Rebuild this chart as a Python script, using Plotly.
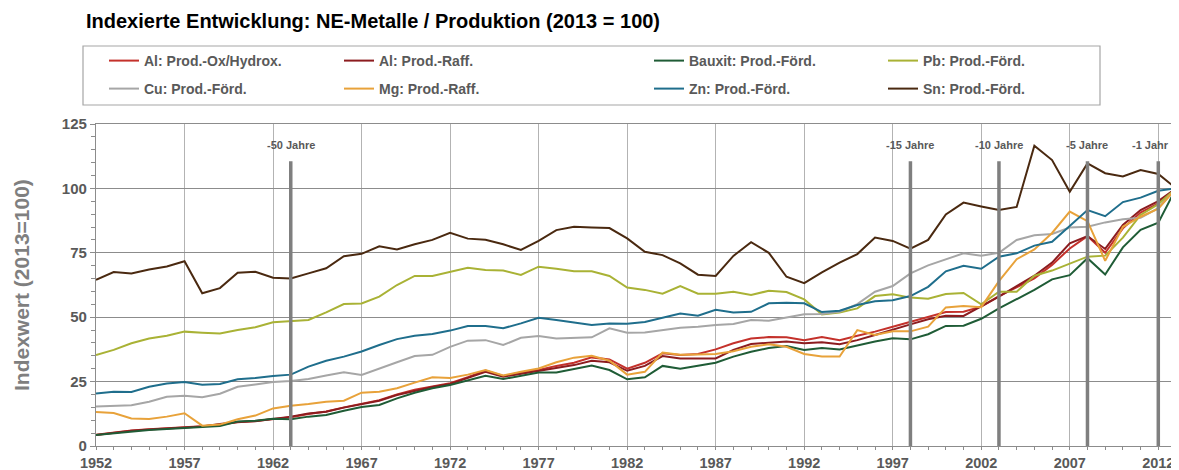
import plotly.graph_objects as go

years = list(range(1952, 2014))

al_ox = [4.4, 5.2, 6.0, 6.5, 6.9, 7.1, 7.7, 8.3, 9.2, 9.7,
         10.5, 11.2, 12.4, 13.4, 15.0, 16.5, 17.8, 20.0, 21.8, 23.1,
         24.4, 26.7, 29.3, 27.2, 28.5, 29.5, 31.1, 32.3, 34.4, 33.6,
         30.0, 32.3, 36.0, 35.3, 35.7, 37.5, 39.9, 41.7, 42.3, 42.2,
         41.1, 42.3, 41.1, 42.8, 44.4, 46.3, 48.1, 50.2, 52.0, 52.1,
         54.1, 58.2, 61.8, 65.1, 70.3, 76.7, 81.5, 75.0, 84.5, 90.6,
         94.2, 100]
al_raff = [4.3, 5.1, 5.9, 6.4, 6.8, 7.0, 7.6, 8.5, 9.3, 9.6,
           10.4, 11.4, 12.6, 13.3, 14.9, 16.3, 17.6, 19.8, 21.5, 22.9,
           24.1, 26.3, 28.8, 26.9, 28.0, 29.2, 30.1, 31.4, 33.1, 32.5,
           29.2, 31.1, 34.9, 34.0, 34.0, 34.0, 37.3, 39.6, 40.1, 40.6,
           39.9, 40.3, 39.5, 41.1, 43.1, 45.0, 47.2, 49.2, 50.6, 50.5,
           54.1, 58.0, 62.1, 66.1, 71.2, 78.7, 81.5, 76.5, 85.8, 91.6,
           95.1, 100]
bauxit = [4.3, 5.0, 5.7, 6.2, 6.6, 7.0, 7.4, 7.8, 9.5, 9.8,
          10.6, 10.4, 11.4, 12.0, 13.7, 15.1, 15.9, 18.5, 20.7, 22.4,
          23.7, 25.6, 27.3, 26.0, 27.2, 28.5, 28.5, 29.8, 31.2, 29.5,
          25.9, 26.7, 31.1, 30.0, 31.2, 32.3, 34.7, 36.6, 38.0, 38.8,
          37.3, 38.0, 37.5, 39.1, 40.6, 41.8, 41.4, 43.4, 46.6, 46.7,
          49.4, 53.4, 56.9, 60.6, 64.7, 66.3, 72.9, 66.6, 77.1, 83.9,
          86.7, 100]
pb = [35.3, 37.3, 39.9, 41.7, 42.8, 44.4, 44.0, 43.7, 45.0, 46.1,
      48.0, 48.4, 48.9, 51.9, 55.1, 55.3, 58.0, 62.5, 66.0, 66.0,
      67.5, 69.2, 68.3, 68.1, 66.4, 69.6, 68.8, 67.8, 67.8, 66.0,
      61.5, 60.6, 59.1, 62.1, 59.1, 59.1, 59.9, 58.6, 60.3, 59.8,
      56.9, 51.1, 51.8, 53.4, 58.2, 58.9, 57.6, 57.2, 59.0, 59.4,
      55.0, 59.9, 59.9, 66.1, 68.1, 70.9, 73.5, 73.9, 80.9, 89.7,
      93.9, 100]
cu = [15.3, 15.5, 15.8, 17.2, 19.1, 19.5, 18.9, 20.3, 23.0, 23.9,
      24.8, 25.2, 26.0, 27.4, 28.6, 27.6, 29.9, 32.5, 34.9, 35.4,
      38.5, 40.9, 41.1, 39.2, 42.0, 42.7, 41.7, 42.0, 42.2, 45.7,
      44.0, 44.1, 45.0, 45.9, 46.3, 47.0, 47.4, 48.9, 48.6, 49.8,
      51.1, 51.2, 52.1, 55.1, 59.9, 62.1, 67.0, 70.1, 72.5, 74.8,
      73.9, 75.0, 80.0, 81.8, 82.3, 84.8, 85.1, 86.8, 88.0, 88.6,
      92.3, 100]
mg = [13.2, 12.8, 10.7, 10.5, 11.4, 12.7, 7.9, 8.3, 10.4, 11.8,
      14.6, 15.6, 16.3, 17.2, 17.6, 20.7, 21.1, 22.4, 24.6, 26.7,
      26.4, 27.7, 29.5, 27.4, 28.8, 30.1, 32.5, 34.3, 35.0, 33.1,
      27.7, 28.8, 36.3, 35.4, 35.5, 35.7, 36.8, 38.5, 39.5, 38.5,
      35.7, 34.7, 34.7, 45.0, 43.1, 44.5, 44.5, 46.3, 53.8, 54.3,
      53.9, 64.0, 72.5, 76.3, 82.7, 91.0, 87.3, 71.9, 85.1, 89.0,
      92.1, 100]
zn = [20.4, 21.1, 21.0, 23.0, 24.3, 24.8, 23.8, 24.1, 25.9, 26.4,
      27.2, 27.7, 30.8, 33.1, 34.7, 36.7, 39.2, 41.5, 42.8, 43.5,
      44.8, 46.6, 46.6, 45.7, 47.6, 49.8, 48.9, 47.9, 47.0, 47.6,
      47.5, 48.1, 49.9, 51.4, 50.6, 52.9, 51.8, 52.1, 55.4, 55.6,
      55.4, 52.0, 52.5, 54.7, 56.2, 56.6, 58.2, 61.8, 67.8, 70.0,
      68.8, 73.5, 74.8, 77.8, 79.3, 85.4, 91.6, 89.2, 94.7, 96.4,
      99.1, 100]
sn = [64.5, 67.5, 67.0, 68.5, 69.7, 71.7, 59.3, 61.3, 67.3, 67.6,
      65.3, 65.0, 67.0, 69.0, 73.7, 74.6, 77.5, 76.3, 78.3, 80.0,
      82.8, 80.5, 80.1, 78.3, 76.1, 79.6, 83.8, 85.1, 84.8, 84.6,
      80.6, 75.4, 74.1, 70.9, 66.5, 66.0, 73.8, 79.1, 75.0, 65.7,
      63.2, 67.4, 71.2, 74.5, 80.9, 79.6, 76.6, 80.0, 89.9, 94.5,
      93.0, 91.6, 92.8, 116.6, 111.0, 98.7, 109.7, 105.9, 104.6, 107.1,
      105.6, 100]

marker_years = [1963, 1998, 2003, 2008, 2012]
marker_labels = ["-50 Jahre", "-15 Jahre", "-10 Jahre", "-5 Jahre", "-1 Jahr"]

FONT = "Liberation Sans, Arial, sans-serif"
GREY_TXT = "#595959"

# the page body has an 8px margin, so the figure is drawn 8px in and up
OFF = 8
W, H = 1179 - OFF, 470 - OFF
PL, PR, PT, PB = 96 - OFF, 1176 - OFF, 124 - OFF, 446 - OFF   # plot box in figure px

# name, values, colour, legend slot (text start px, row y px, in window px)
series = [
    ("Al: Prod.-Ox/Hydrox.", al_ox, "#c4312b", 145, 61),
    ("Al: Prod.-Raff.", al_raff, "#8c1c1f", 380, 61),
    ("Bauxit: Prod.-Förd.", bauxit, "#1f5c36", 690, 61),
    ("Pb: Prod.-Förd.", pb, "#a9b235", 924, 61),
    ("Cu: Prod.-Förd.", cu, "#a6a6a6", 145, 89),
    ("Mg: Prod.-Raff.", mg, "#e8a23a", 380, 89),
    ("Zn: Prod.-Förd.", zn, "#1f6e8c", 690, 89),
    ("Sn: Prod.-Förd.", sn, "#4a2910", 924, 89),
]

fig = go.Figure()
legends = {}
for i, (name, vals, color, tx, ty) in enumerate(series):
    key = "legend" if i == 0 else f"legend{i + 1}"
    fig.add_trace(go.Scatter(
        x=years, y=vals, mode="lines", name=name,
        line=dict(color=color, width=2),
        legend=key,
    ))
    legends[key] = dict(
        xref="container", yref="container",
        x=(tx - OFF - 41) / W, y=1 - (ty - OFF) / H,
        xanchor="left", yanchor="middle",
        bgcolor="rgba(0,0,0,0)", borderwidth=0,
        font=dict(family=FONT, size=14, color=GREY_TXT, weight="bold"),
        itemwidth=30,
    )

pw, ph = PR - PL, PB - PT

# period markers
for yr, lab in zip(marker_years, marker_labels):
    fig.add_shape(type="line", x0=yr, x1=yr, y0=0, y1=110.5,
                  line=dict(color="#7f7f7f", width=3.5), layer="above")
    fig.add_annotation(x=yr, y=117, text=lab, showarrow=False,
                       xshift=-8 if yr == marker_years[-1] else 0,
                       font=dict(family=FONT, size=11, color=GREY_TXT,
                                 weight="bold"))

# legend frame (window px 83..1100 x 46..105)
fig.add_shape(type="rect", xref="paper", yref="paper",
              x0=(83 - OFF - PL) / pw, x1=(1100 - OFF - PL) / pw,
              y0=(PB - (105 - OFF)) / ph, y1=(PB - (46 - OFF)) / ph,
              line=dict(color="#a6a6a6", width=1.2), fillcolor="rgba(0,0,0,0)")

fig.add_annotation(xref="paper", yref="paper", x=0, y=0.5,
                   xanchor="center", yanchor="middle", xshift=-(96 - 21),
                   text="Indexwert (2013=100)", textangle=-90, showarrow=False,
                   font=dict(family=FONT, size=21, color="#7f7f7f", weight="bold"))

fig.update_layout(
    width=W, height=H,
    margin=dict(l=PL, r=W - PR, t=PT, b=H - PB, autoexpand=False),
    paper_bgcolor="white", plot_bgcolor="white",
    title=dict(text="Indexierte Entwicklung: NE-Metalle / Produktion (2013 = 100)",
               xref="container", yref="container",
               x=(86 - OFF) / W, y=1 - (21 - OFF) / H,
               xanchor="left", yanchor="middle",
               font=dict(family=FONT, size=20, color="black", weight="bold")),
    showlegend=True,
    **legends,
)

fig.update_xaxes(
    range=[1952, 2013], tick0=1952, dtick=5, automargin=False,
    showgrid=True, gridcolor="#b3b3b3", gridwidth=1,
    showline=True, linecolor="#8c8c8c", linewidth=1.2, mirror=True,
    ticks="outside", ticklen=3, tickcolor="#8c8c8c", tickangle=0,
    minor=dict(dtick=1, ticks="outside", ticklen=3, tickcolor="#8c8c8c", showgrid=False),
    tickfont=dict(family=FONT, size=14.5, color=GREY_TXT, weight="bold"),
    zeroline=False,
)
fig.update_yaxes(
    range=[0, 125], tick0=0, dtick=25, automargin=False,
    showgrid=True, gridcolor="#8c8c8c", gridwidth=1,
    showline=True, linecolor="#8c8c8c", linewidth=1.2, mirror=True,
    ticks="outside", ticklen=5, tickcolor="#8c8c8c",
    minor=dict(dtick=5, ticks="outside", ticklen=4, tickcolor="#8c8c8c", showgrid=False),
    tickfont=dict(family=FONT, size=15, color=GREY_TXT, weight="bold"),
    zeroline=False,
)

fig.write_html("out.html")
